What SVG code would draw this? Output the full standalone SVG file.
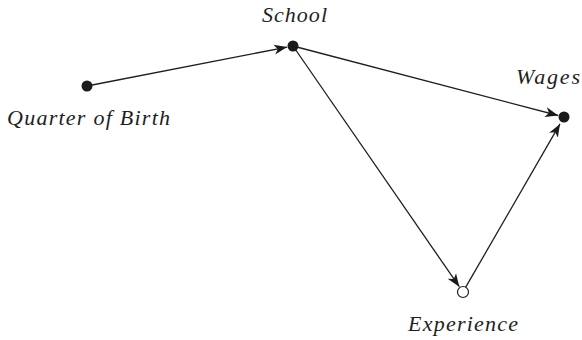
<svg xmlns="http://www.w3.org/2000/svg" width="582" height="340" viewBox="0 0 582 340">
<defs>
<style>
.lbl{font-family:"Liberation Serif","DejaVu Serif",serif;font-style:italic;font-size:22px;fill:#1e1e1e}
.edge{stroke:#1e1e1e;stroke-width:1.3;fill:none;marker-end:url(#arr)}
.dot{fill:#1a1a1a}
.hollow{fill:#fff;stroke:#1e1e1e;stroke-width:1.2}
</style>
<marker id="arr" markerUnits="userSpaceOnUse" markerWidth="14" markerHeight="11" refX="13" refY="5" orient="auto" viewBox="0 0 14 10">
<path d="M0,0 L13,5 L0,10 L3.5,5 z" fill="#1a1a1a"/>
</marker>
</defs>
<rect width="582" height="340" fill="#fff"/>
<g id="connectors">
<line class="edge" x1="87" y1="86" x2="287.1" y2="47.1"/>
<line class="edge" x1="293" y1="46" x2="558.2" y2="115.5"/>
<line class="edge" x1="293" y1="46" x2="459.3" y2="286.7"/>
<line class="edge" x1="465.7" y1="287.2" x2="560" y2="123.9"/>
</g>
<g id="quarter-of-birth">
<circle class="dot" cx="87" cy="86" r="5.5"/>
<text class="lbl" x="7" y="125" textLength="163" lengthAdjust="spacing">Quarter of Birth</text>
</g>
<g id="school">
<circle class="dot" cx="293" cy="46" r="5.5"/>
<text class="lbl" x="262" y="22" textLength="65" lengthAdjust="spacing">School</text>
</g>
<g id="wages">
<circle class="dot" cx="564" cy="117" r="5.5"/>
<text class="lbl" x="516" y="84" textLength="64" lengthAdjust="spacing">Wages</text>
</g>
<g id="experience">
<circle class="hollow" cx="463" cy="292" r="5.5"/>
<text class="lbl" x="408" y="331" textLength="110" lengthAdjust="spacing">Experience</text>
</g>
</svg>
